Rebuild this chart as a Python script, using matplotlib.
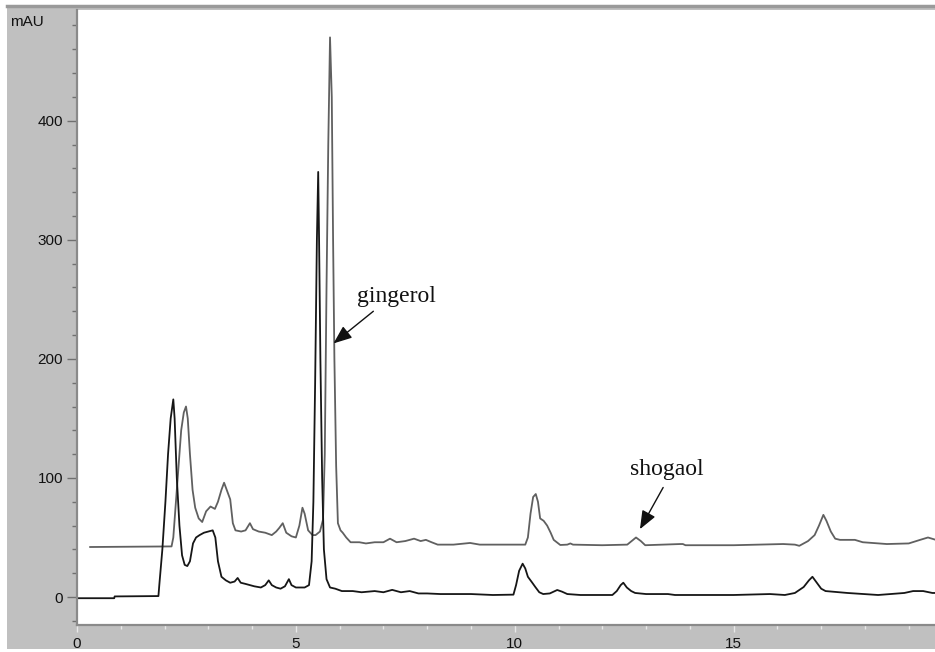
"""HPLC chromatogram of two ginger extracts, ChemStation-style frame."""
import matplotlib
matplotlib.use("Agg")
import matplotlib.pyplot as plt
from matplotlib.ticker import MultipleLocator

# lower trace (black): retention time (min), signal (mAU)
black_t = [0.00, 0.85, 0.86, 1.86, 1.88, 1.95, 2.02, 2.08, 2.14, 2.20, 2.23, 2.28,
           2.34, 2.40, 2.46, 2.52, 2.58, 2.65, 2.72, 2.80, 2.90, 3.00, 3.10, 3.16,
           3.22, 3.30, 3.40, 3.50, 3.60, 3.67, 3.74, 3.85, 3.95, 4.05, 4.20, 4.30,
           4.38, 4.45, 4.55, 4.65, 4.75, 4.84, 4.90, 5.00, 5.10, 5.20, 5.30, 5.36,
           5.40, 5.44, 5.48, 5.51, 5.53, 5.56, 5.60, 5.64, 5.70, 5.78, 5.90, 6.05,
           6.30, 6.50, 6.80, 7.00, 7.20, 7.40, 7.60, 7.80, 8.00, 8.30, 9.00, 9.50,
           9.97, 10.03, 10.10, 10.18, 10.24, 10.30, 10.40, 10.47, 10.56, 10.65, 10.80,
           10.97, 11.08, 11.20, 11.50, 12.23, 12.33, 12.42, 12.48, 12.56, 12.66, 12.75,
           13.00, 13.50, 13.66, 14.00, 15.00, 15.83, 16.17, 16.40, 16.60, 16.72,
           16.80, 16.90, 17.00, 17.10, 17.60, 18.30, 18.90, 19.10, 19.33, 19.54, 19.62]
black_v = [-1.0, -1.0, 0.5, 0.8, 10, 40, 80, 120, 150, 166, 150, 100,
           60, 35, 27, 26, 30, 45, 50, 52, 54, 55, 56, 50,
           30, 17, 14, 12, 13, 16, 12, 11, 10, 9, 8, 10,
           14, 10, 8, 7, 9, 15, 10, 8, 8, 8, 10, 30,
           80, 180, 300, 357, 300, 200, 100, 40, 15, 8, 7, 5,
           5, 4, 5, 4, 6, 4, 5, 3, 3, 2.5, 2.5, 1.7,
           2.0, 10, 22, 28, 24, 17, 12, 8.4, 4, 2.5, 3,
           5.9, 4.5, 2.5, 1.7, 1.7, 5, 10, 12, 8, 5, 3.4,
           2.5, 2.5, 1.7, 1.7, 1.7, 2.5, 1.7, 3.4, 8.4, 14,
           17, 12, 7, 5, 3.4, 1.7, 3.4, 5, 5, 3.4, 3.4]

# upper trace (grey)
grey_t = [0.30, 2.16, 2.20, 2.26, 2.32, 2.38, 2.44, 2.49, 2.53, 2.58, 2.64, 2.70,
          2.78, 2.86, 2.95, 3.05, 3.15, 3.22, 3.30, 3.36, 3.42, 3.50, 3.56, 3.62,
          3.75, 3.85, 3.95, 4.02, 4.15, 4.30, 4.45, 4.55, 4.62, 4.70, 4.78, 4.90,
          5.00, 5.08, 5.15, 5.20, 5.28, 5.38, 5.45, 5.55, 5.62, 5.66, 5.70, 5.74,
          5.78, 5.82, 5.85, 5.88, 5.92, 5.96, 6.02, 6.07, 6.15, 6.25, 6.45, 6.60,
          6.80, 7.00, 7.15, 7.30, 7.50, 7.70, 7.85, 7.97, 8.10, 8.24, 8.60, 8.98,
          9.20, 9.60, 10.00, 10.24, 10.30, 10.36, 10.42, 10.48, 10.53, 10.58, 10.66,
          10.74, 10.82, 10.89, 11.04, 11.20, 11.27, 11.33, 12.00, 12.57, 12.67, 12.77,
          12.88, 12.98, 13.78, 13.84, 13.90, 15.00, 16.13, 16.40, 16.50, 16.70, 16.85,
          16.95, 17.05, 17.12, 17.22, 17.32, 17.43, 17.77, 17.95, 18.50, 19.00, 19.26,
          19.44, 19.62]
grey_v = [42, 42.5, 50, 80, 110, 140, 155, 160, 150, 120, 90, 75,
          66, 63, 72, 76, 74, 80, 90, 96, 90, 82, 62, 56,
          55, 56, 62, 57, 55, 54, 52, 55, 58, 62, 54, 51,
          50, 60, 75, 70, 56, 52, 52, 55, 65, 120, 260, 380,
          470, 420, 300, 200, 110, 62, 56, 54, 50, 46, 46, 45,
          46, 46, 49, 46, 47, 49, 47, 48, 46, 44, 44, 45.4,
          44, 44, 44, 44, 50, 70, 84, 86.5, 80, 66, 64,
          60, 54, 48, 43.7, 44, 45, 44, 43.5, 44, 47, 50,
          47, 43.5, 44.5, 44.5, 43.5, 43.5, 44.5, 44, 43, 47, 52,
          60, 69, 64, 55, 49, 48, 48, 46, 44.5, 45, 48,
          50, 48]

# annotations: label, text anchor (x, y), arrow tip (x, y), arrow tail (x, y)
ann_labels = ["gingerol", "shogaol"]
ann_text_xy = [(6.40, 248), (12.64, 102.5)]
ann_tip_xy = [(5.86, 213), (12.86, 57)]
ann_tail_xy = [(6.77, 240), (13.39, 92)]

W, H = 935, 652
fig = plt.figure(figsize=(W / 100, H / 100), dpi=100, facecolor="white")

# grey instrument frame behind the plot (its own axes, drawn first)
bg = fig.add_axes([7 / W, 3 / H, 1 - 7 / W, (646 - 3) / H], zorder=-5)
bg.set_facecolor("#c0c0c0")
bg.set_xticks([])
bg.set_yticks([])
for s in bg.spines.values():
    s.set_visible(False)
bg.spines["top"].set_visible(True)
bg.spines["top"].set_color("#9a9a9a")
bg.spines["top"].set_linewidth(2.5)

ax = fig.add_axes([77 / W, 27 / H, 1 - 77 / W, (625 - 10) / H], zorder=1)
ax.set_facecolor("white")

ax.plot(grey_t, grey_v, color="#606060", lw=1.3)
ax.plot(black_t, black_v, color="#161616", lw=1.3)

ax.set_xlim(0, 19.6)
ax.set_ylim(-23.5, 493)

ax.xaxis.set_major_locator(MultipleLocator(5))
ax.xaxis.set_minor_locator(MultipleLocator(1))
ax.yaxis.set_major_locator(MultipleLocator(100))
ax.yaxis.set_minor_locator(MultipleLocator(20))

for s in ("top", "right"):
    ax.spines[s].set_visible(False)
for s in ("left", "bottom"):
    ax.spines[s].set_color("#8a8a8a")
    ax.spines[s].set_linewidth(1.6)

ax.tick_params(axis="y", which="major", direction="out", length=7, width=1,
               color="#707070", pad=3)
ax.tick_params(axis="y", which="minor", direction="out", length=3.5, width=1,
               color="#707070")
ax.tick_params(axis="x", which="major", direction="out", length=5, width=1,
               color="#e8e8e8", pad=3.5)
ax.tick_params(axis="x", which="minor", direction="out", length=3, width=1,
               color="#e8e8e8")
for lab in ax.get_xticklabels() + ax.get_yticklabels():
    lab.set_fontfamily("Liberation Sans")
    lab.set_fontsize(11)
    lab.set_color("#111111")

fig.text(10 / W, 1 - 22 / H, "mAU", family="Liberation Sans", fontsize=11,
         va="center", ha="left", color="#111111")

for lab, txy, tip, tail in zip(ann_labels, ann_text_xy, ann_tip_xy, ann_tail_xy):
    ax.text(txy[0], txy[1], lab, family="Liberation Serif", fontsize=17,
            ha="left", va="baseline", color="#111111")
    ax.annotate("", xy=tip, xytext=tail,
                arrowprops=dict(arrowstyle="-|>,head_length=0.7,head_width=0.28",
                                color="#111111", lw=1.0,
                                mutation_scale=16, shrinkA=0, shrinkB=0))

fig.savefig("out.png", dpi=100, facecolor="white")
